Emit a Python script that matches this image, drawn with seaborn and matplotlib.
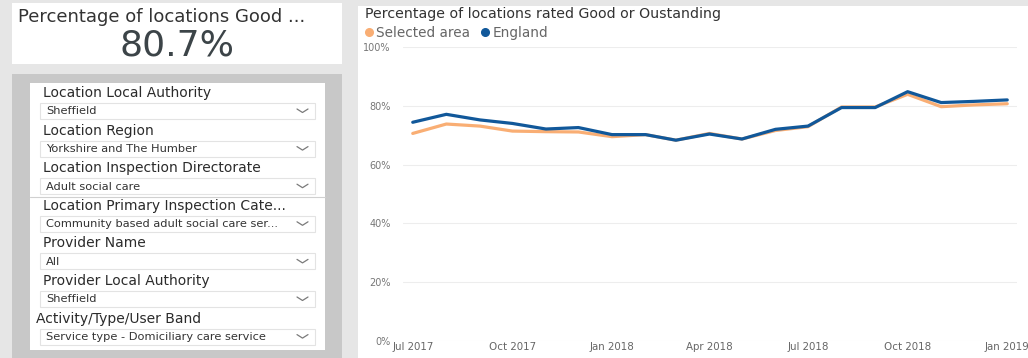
import matplotlib
matplotlib.use("Agg")
import matplotlib.pyplot as plt
from matplotlib.patches import Rectangle
from matplotlib.lines import Line2D
import seaborn as sns
import pandas as pd

# ---- data -------------------------------------------------------------
months = ["2017-07", "2017-08", "2017-09", "2017-10", "2017-11", "2017-12",
          "2018-01", "2018-02", "2018-03", "2018-04", "2018-05", "2018-06",
          "2018-07", "2018-08", "2018-09", "2018-10", "2018-11", "2018-12",
          "2019-01"]
selected_area = [70.6, 73.8, 73.1, 71.4, 71.2, 71.1, 69.5, 70.2, 68.3, 70.6,
                 68.7, 71.6, 72.9, 79.6, 79.6, 83.9, 79.7, 80.3, 80.7]
england = [74.4, 77.1, 75.2, 74.0, 72.1, 72.6, 70.2, 70.2, 68.3, 70.4,
           68.7, 72.0, 73.1, 79.4, 79.4, 84.8, 81.1, 81.5, 82.0]
series_names = ["Selected area", "England"]

y_ticks = [0, 20, 40, 60, 80, 100]
x_tick_months = ["2017-07", "2017-10", "2018-01", "2018-04", "2018-07",
                 "2018-10", "2019-01"]

card_title = "Percentage of locations Good ..."
chart_title = "Percentage of locations rated Good or Oustanding"

slicer_titles = ["Location Local Authority", "Location Region",
                 "Location Inspection Directorate",
                 "Location Primary Inspection Cate...", "Provider Name",
                 "Provider Local Authority", "Activity/Type/User Band"]
slicer_values = ["Sheffield", "Yorkshire and The Humber", "Adult social care",
                 "Community based adult social care ser...", "All",
                 "Sheffield", "Service type - Domiciliary care service"]

# ---- styling ----------------------------------------------------------
sns.set_theme(style="white")
plt.rcParams["font.family"] = ["DejaVu Sans"]

ORANGE = "#F9AE74"
BLUE = "#11589A"
W, H = 1028, 358

fig = plt.figure(figsize=(W / 100, H / 100), dpi=100)
fig.patch.set_facecolor("#E6E6E6")


def fx(x):
    return x / W


def fy(y):
    return 1 - y / H


def box(x0, y0, x1, y1, fc, ec="none", lw=0, z=-3):
    fig.patches.append(Rectangle((fx(x0), fy(y1)), fx(x1) - fx(x0),
                                 fy(y0) - fy(y1), transform=fig.transFigure,
                                 facecolor=fc, edgecolor=ec, linewidth=lw,
                                 zorder=z))


# ---- KPI card ---------------------------------------------------------
box(12, 3, 342, 64, "white")
fig.text(fx(18), fy(17), card_title, fontsize=13, color="#333333",
         ha="left", va="center")
fig.text(fx(177), fy(46), f"{selected_area[-1]:.1f}%", fontsize=26,
         color="#3C4448", ha="center", va="center")

# ---- slicer panel -----------------------------------------------------
box(12, 74, 342, 358, "#C8C8C8")
box(30, 83, 325, 350, "white")
fig.add_artist(Line2D([fx(30), fx(325)], [fy(197), fy(197)],
                      transform=fig.transFigure, color="#D0D0D0", lw=0.8))

row_gap = 37.6
for i, (title, value) in enumerate(zip(slicer_titles, slicer_values)):
    ty = 93 + i * row_gap
    tx = 36 if i == len(slicer_titles) - 1 else 43
    fig.text(fx(tx), fy(ty), title, fontsize=10, color="#2B2B2B",
             ha="left", va="center")
    top = ty + 10
    box(40, top, 315, top + 16, "white", ec="#E3E3E3", lw=0.8, z=-2)
    fig.text(fx(46), fy(top + 8.5), value, fontsize=8.2, color="#333333",
             ha="left", va="center")
    cy = top + 8
    fig.add_artist(Line2D([fx(297), fx(302.5), fx(308)],
                          [fy(cy - 2), fy(cy + 1.5), fy(cy - 2)],
                          transform=fig.transFigure, color="#7A7A7A",
                          lw=0.9))

# ---- line chart -------------------------------------------------------
box(358, 6, W, H, "white")
fig.text(fx(365), fy(14), chart_title, fontsize=10.2, color="#333333",
         ha="left", va="center")

dates = pd.to_datetime(months)
df = pd.DataFrame({
    "month": list(dates) * 2,
    "value": selected_area + england,
    "series": [series_names[0]] * len(months) + [series_names[1]] * len(months),
})

ax = fig.add_axes([fx(403), fy(341), fx(1017) - fx(403), fy(47) - fy(341)])
ax.set_facecolor("none")
sns.lineplot(data=df, x="month", y="value", hue="series",
             palette={series_names[0]: ORANGE, series_names[1]: BLUE},
             linewidth=2.3, ax=ax, legend=False)

ax.set_ylim(0, 100)
ax.set_xlim(dates[0] - pd.Timedelta(days=9), dates[-1] + pd.Timedelta(days=9))
ax.set_yticks(y_ticks)
ax.set_yticklabels([f"{v}%" for v in y_ticks])
tick_dates = pd.to_datetime(x_tick_months)
ax.set_xticks(tick_dates)
ax.set_xticklabels([d.strftime("%b %Y") for d in tick_dates])
ax.grid(axis="y", color="#EDEDED", lw=0.8)
ax.grid(axis="x", visible=False)
ax.set_axisbelow(True)
for s in ax.spines.values():
    s.set_visible(False)
ax.tick_params(axis="y", labelsize=7, colors="#777777", length=0, pad=9)
ax.tick_params(axis="x", labelsize=7.4, colors="#666666", length=0, pad=1)
ax.set_xlabel("")
ax.set_ylabel("")

# legend
handles = [Line2D([], [], marker="o", ls="none", color=c, markersize=5.5)
           for c in (ORANGE, BLUE)]
fig.legend(handles, series_names, loc="center left",
           bbox_to_anchor=(fx(362), fy(33)), ncol=2, frameon=False,
           fontsize=9.8, labelcolor="#666666", handletextpad=0.05,
           columnspacing=0.6, borderaxespad=0, borderpad=0,
           handlelength=1.0)

fig.savefig("out.png", dpi=100, facecolor=fig.get_facecolor())
